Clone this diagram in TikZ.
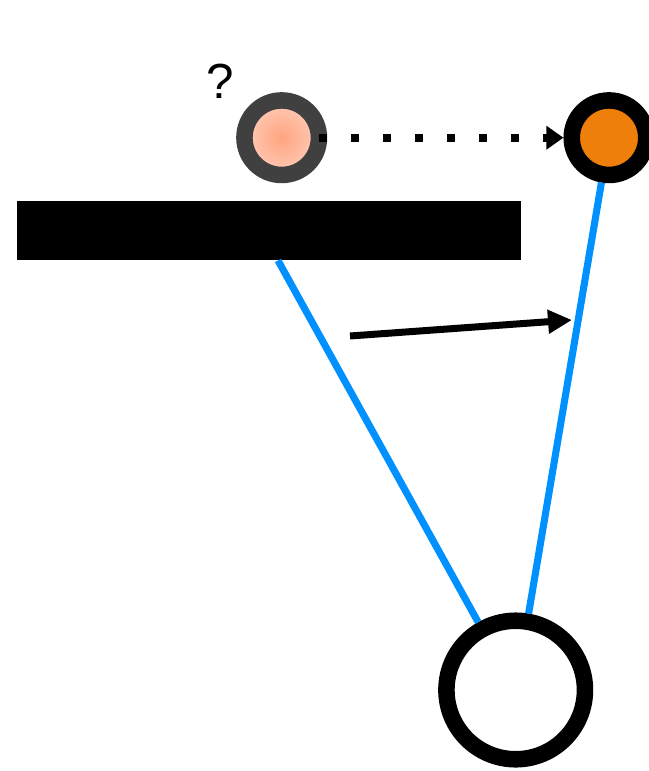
\documentclass[tikz,border=0pt]{standalone}
\usepackage{fontspec}
\setmainfont{Liberation Sans}
\usetikzlibrary{arrows.meta}

\tikzset{every picture/.style={line width=0.75pt}}
\tikzset{
  ball/.style={circle, inner sep=0pt, minimum size=55.9pt, line width=12.4pt},
  link/.style={draw={rgb, 255:red, 0; green, 145; blue, 255 }, line width=5.3pt},
}

\begin{document}
\begin{tikzpicture}[x=0.75pt,y=0.75pt,yscale=-1]
\useasboundingbox (0,0) rectangle (649,771); %set diagram to the size of the reference

%Shape: Rectangle [id:bar]
\node (bar) [fill=black, inner sep=0pt, minimum width=378pt, minimum height=44.25pt] at (269,230.5) {};
%Shape: Circle [id:guess]
\node (guess) [ball, draw={rgb, 255:red, 64; green, 64; blue, 64 }, inner color={rgb, 255:red, 255; green, 165; blue, 128 }, outer color={rgb, 255:red, 255; green, 203; blue, 183 }] at (281.7,137.7) {};
%Shape: Circle [id:target]
\node (target) [ball, draw=black, fill={rgb, 255:red, 238; green, 127; blue, 10 }] at (609,137.7) {};
%Shape: Circle [id:pivot]
\node (pivot) [circle, draw=black, fill=white, inner sep=0pt, minimum size=103.9pt, line width=12.4pt] at (515.7,690) {};

%Straight Lines [id:rod1]
\draw [link] ([xshift=6.75pt]bar.south) -- (pivot);
%Straight Lines [id:rod2]
\draw [link] (target) -- (pivot);

%Dotted Arrow [id:jump]
\draw [line width=6pt, dash pattern=on 6pt off 18pt, -{Triangle[length=12.75pt,width=17pt]}] ([xshift=-6pt]guess.east) -- (target);

%Arrow [id:push]
\coordinate (tail) at (350,336);
\coordinate (head) at (572,320);
\draw [line width=5.25pt, -{Triangle[length=18pt,width=17pt]}] (tail) -- (head);

% Text Node
\node (ask) [inner sep=0pt] at (220.7,81.7) {\fontsize{37}{40}\selectfont ?};

\end{tikzpicture}
\end{document}
